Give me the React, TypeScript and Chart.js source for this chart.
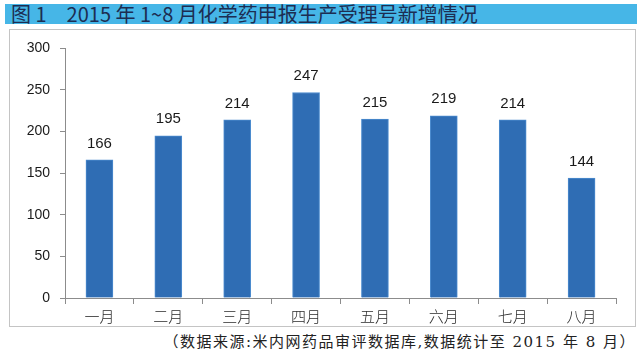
import React, { useEffect, useRef } from "react";
import { Chart, registerables } from "chart.js";

Chart.register(...registerables);

const categories = ["一月", "二月", "三月", "四月", "五月", "六月", "七月", "八月"];
const values = [166, 195, 214, 247, 215, 219, 214, 144];
const yTicks = [0, 50, 100, 150, 200, 250, 300];
const titleText = "图 1　2015 年 1~8 月化学药申报生产受理号新增情况";
const footerText = "（数据来源:米内网药品审评数据库,数据统计至 2015 年 8 月）";

const valueLabels = {
  id: "valueLabels",
  afterDatasetsDraw(chart: any) {
    const ctx = chart.ctx;
    const meta = chart.getDatasetMeta(0);
    ctx.save();
    ctx.font = "15px 'Liberation Sans', Arial, sans-serif";
    ctx.fillStyle = "#1a1a1a";
    ctx.textAlign = "center";
    ctx.textBaseline = "bottom";
    meta.data.forEach((el: any, i: number) => {
      ctx.fillText(String(chart.data.datasets[0].data[i]), el.x, el.y - 9);
    });
    ctx.restore();
  },
};

export default function App() {
  const ref = useRef<HTMLCanvasElement>(null);
  useEffect(() => {
    if (!ref.current) return;
    const chart = new Chart(ref.current, {
      type: "bar",
      data: {
        labels: categories,
        datasets: [
          {
            data: values,
            backgroundColor: "#2f6db4",
            borderColor: "#4d8ccf",
            borderWidth: 1,
            barThickness: 27,
          },
        ],
      },
      options: {
        responsive: false,
        animation: false,
        layout: { padding: { top: 14, right: 19, left: 0, bottom: 0 } },
        plugins: { legend: { display: false }, tooltip: { enabled: false }, title: { display: false } },
        scales: {
          x: {
            grid: { display: true, offset: true, drawOnChartArea: false, drawTicks: true, tickLength: 6, color: "#8c8c8c" },
            border: { display: true, color: "#8c8c8c" },
            ticks: {
              color: "#2a2a2a",
              padding: 3,
              font: { family: "'Noto Sans CJK SC', sans-serif", size: 15, weight: 300 as any },
            },
            afterFit: (s: any) => { s.height = 28; },
          },
          y: {
            min: 0,
            max: 300,
            afterBuildTicks: (s: any) => { s.ticks = yTicks.map((v) => ({ value: v })); },
            grid: { display: true, drawOnChartArea: false, drawTicks: true, tickLength: 5, color: "#8c8c8c" },
            border: { display: true, color: "#8c8c8c" },
            ticks: {
              color: "#1a1a1a",
              padding: 10,
              font: { family: "'Liberation Sans', Arial, sans-serif", size: 14 },
            },
            afterFit: (s: any) => { s.width = 55; },
          },
        },
      },
      plugins: [valueLabels],
    });
    return () => chart.destroy();
  }, []);

  return (
    <div style={{ position: "fixed", left: 0, top: 0, width: 640, height: 355, background: "#fff", overflow: "hidden" }}>
      <div
        style={{
          position: "absolute",
          left: 5,
          top: 4,
          width: 632,
          height: 20,
          background: "#46b6e7",
          color: "#1c2d52",
          fontFamily: "'Noto Sans CJK SC', sans-serif",
          fontSize: 20,
          fontWeight: 400,
          lineHeight: "20px",
          paddingLeft: 6,
          boxSizing: "border-box",
          whiteSpace: "pre",
        }}
      >
        {titleText}
      </div>
      <div
        style={{
          position: "absolute",
          left: 9,
          top: 29,
          width: 627,
          height: 298,
          border: "1px solid #c4c4c4",
          boxSizing: "border-box",
        }}
      >
        <canvas ref={ref} width={625} height={296} style={{ display: "block", width: 625, height: 296 }} />
      </div>
      <div
        style={{
          position: "absolute",
          right: 4,
          top: 332,
          fontFamily: "'DejaVu Serif', 'Liberation Serif', 'Noto Sans CJK SC', serif",
          fontSize: 15,
          color: "#222",
          letterSpacing: 1.5,
          lineHeight: "20px",
          whiteSpace: "pre",
        }}
      >
        {footerText}
      </div>
    </div>
  );
}
